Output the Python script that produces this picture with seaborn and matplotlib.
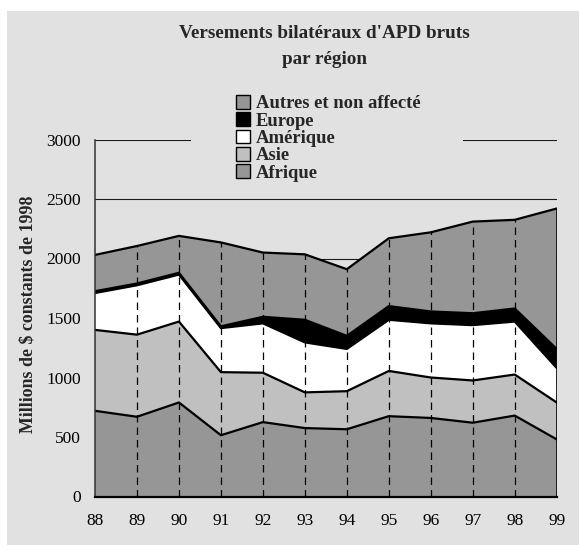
import numpy as np
import pandas as pd
import matplotlib
matplotlib.use("Agg")
import matplotlib.pyplot as plt
from matplotlib.patches import Patch, Rectangle
import seaborn as sns

# Versements bilatéraux d'APD bruts par région (millions de $ constants de 1998)
annees = [88, 89, 90, 91, 92, 93, 94, 95, 96, 97, 98, 99]
afrique = [720, 670, 790, 515, 625, 575, 565, 675, 660, 620, 680, 480]
asie = [680, 690, 680, 530, 415, 300, 320, 380, 340, 355, 345, 310]
amerique = [310, 415, 395, 370, 415, 420, 355, 430, 455, 465, 445, 290]
europe = [15, 15, 15, 15, 55, 190, 110, 115, 100, 100, 110, 160]
autres = [305, 315, 310, 705, 540, 550, 560, 570, 665, 770, 745, 1180]

regions = ["Afrique", "Asie", "Amérique", "Europe", "Autres et non affecté"]
series = [afrique, asie, amerique, europe, autres]
couleurs = ["#969696", "#c0c0c0", "#ffffff", "#000000", "#969696"]
fond = "#e1e1e1"

sns.set_theme(style="white")
plt.rcParams["font.family"] = ["Liberation Serif", "DejaVu Serif"]

fig = plt.figure(figsize=(5.79, 5.45), dpi=100, facecolor="white")
fig.patches.append(Rectangle((7 / 579, 0), 1 - 7 / 579, 1 - 11 / 545,
                             transform=fig.transFigure, facecolor=fond,
                             edgecolor="none", zorder=-10))
ax = fig.add_axes([95 / 579, 1 - 496.5 / 545, (556.7 - 95) / 579, (496.5 - 139.5) / 545])
ax.set_facecolor(fond)
ax.patch.set_alpha(0)

x = np.array(annees)
cumul = np.cumsum(np.array(series), axis=0)
bas = np.vstack([np.zeros(len(annees)), cumul[:-1]])

for i, reg in enumerate(regions):
    ax.fill_between(x, bas[i], cumul[i], facecolor=couleurs[i], edgecolor="none",
                    linewidth=0, zorder=1)

# contours of every stacked level
long = pd.DataFrame({
    "annee": np.tile(x, len(regions)),
    "cumul": cumul.ravel(),
    "niveau": np.repeat(regions, len(annees)),
})
sns.lineplot(data=long, x="annee", y="cumul", hue="niveau",
             palette={r: "black" for r in regions}, linewidth=1.6,
             legend=False, ax=ax, zorder=2)

total = cumul[-1]
ax.vlines(x[1:-1], 0, total[1:-1], colors="black", linewidth=0.9,
          linestyles=(0, (6, 4)), zorder=3)
ax.vlines(x[-1], 0, total[-1], colors="black", linewidth=1.2, zorder=3)

ax.set_xlim(88, 99)
ax.set_ylim(0, 3000)
ax.set_xticks(annees)
ax.set_xticklabels([str(a) for a in annees])
ax.set_yticks(np.arange(0, 3001, 500))
ax.set_axisbelow(True)
ax.grid(axis="y", color="#1a1a1a", linewidth=0.8)
ax.grid(axis="x", visible=False)

for s in ["top", "right"]:
    ax.spines[s].set_visible(False)
ax.spines["left"].set_linewidth(1.1)
ax.spines["left"].set_color("#333333")
ax.spines["bottom"].set_linewidth(1.6)
ax.spines["bottom"].set_color("black")
ax.spines["left"].set_zorder(4)
ax.spines["bottom"].set_zorder(4)

ax.tick_params(axis="both", direction="out", length=4, width=0.9, color="#333333",
               labelsize=12.5, labelcolor="black")
ax.tick_params(axis="x", pad=8)
ax.tick_params(axis="y", pad=6)

ax.set_xlabel("")
ax.set_ylabel("Millions de $ constants de 1998", fontsize=12.9, fontweight="bold")
ax.yaxis.label.set_va("center")
ax.yaxis.set_label_coords((28 - 95) / 461.7, 0.51)

# legend area hides the top gridline
fig.patches.append(Rectangle((191 / 579, 1 - 185 / 545), (463 - 191) / 579, 95 / 545,
                             transform=fig.transFigure, facecolor=fond,
                             edgecolor="none", zorder=5))
poignees = [Patch(facecolor=couleurs[i], edgecolor="black", linewidth=1.0, label=regions[i])
            for i in range(len(regions))][::-1]
leg = fig.legend(handles=poignees, loc="upper center",
                 bbox_to_anchor=(328.5 / 579, 1 - 95 / 545), frameon=False,
                 prop={"size": 13.4, "weight": "bold"}, handlelength=0.75,
                 handleheight=0.75, handletextpad=0.3, labelspacing=0.0,
                 borderpad=0, borderaxespad=0)
leg.set_zorder(6)

fig.text(324 / 579, 1 - 46.5 / 545, "Versements bilatéraux d'APD bruts\npar région",
         ha="center", va="center", fontsize=13.8, fontweight="bold", linespacing=1.7)

fig.savefig("out.png", dpi=100, facecolor="white")
